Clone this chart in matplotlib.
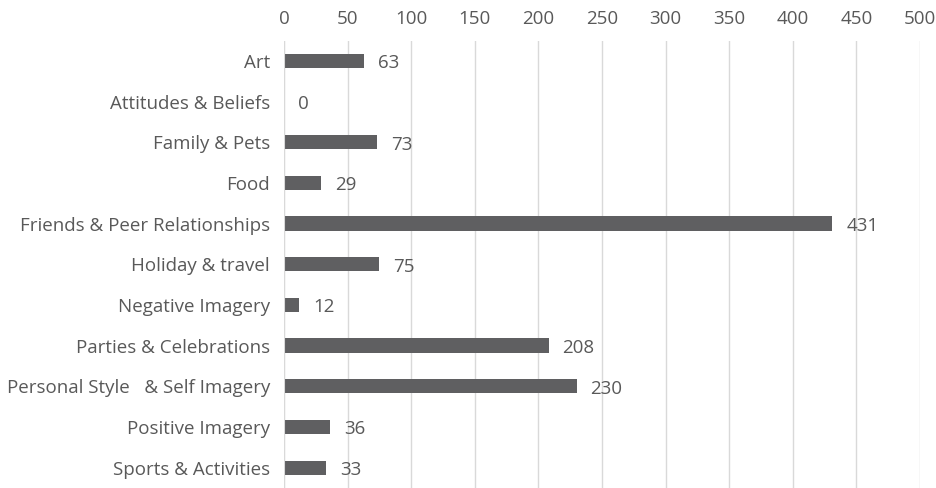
import matplotlib.pyplot as plt

# Категории и значения
categories = ["Art", "Attitudes & Beliefs", "Family & Pets", "Food",
              "Friends & Peer Relationships", "Holiday & travel",
              "Negative Imagery", "Parties & Celebrations",
              "Personal Style   & Self Imagery", "Positive Imagery",
              "Sports & Activities"]
values = [63, 0, 73, 29, 431, 75, 12, 208, 230, 36, 33]
ticks = [0, 50, 100, 150, 200, 250, 300, 350, 400, 450, 500]

plt.rcParams['font.family'] = ['Open Sans', 'DejaVu Sans']
text_color = '#595959'
fs = 13.5

fig = plt.figure(figsize=(9.36, 4.88), dpi=100)
ax = fig.add_axes([0.3034, 0.0, 0.6796, 0.917])

y = list(range(len(categories)))
ax.barh(y, values, height=0.35, color='#5f5f61', zorder=3)

for yi, v in zip(y, values):
    ax.text(v + 11, yi + 0.06, str(v), va='center', ha='left',
            fontsize=fs, color=text_color)

ax.set_xlim(0, 500)
ax.set_ylim(len(categories) - 0.5, -0.5)
ax.set_xticks(ticks)
ax.set_yticks(y)
ax.set_yticklabels(categories)
ax.xaxis.tick_top()
ax.tick_params(axis='both', length=0, labelsize=fs, colors=text_color)
ax.tick_params(axis='x', pad=9)
ax.tick_params(axis='y', pad=10)
ax.grid(axis='x', color='#d9d9d9', linewidth=1, zorder=0)
for s in ax.spines.values():
    s.set_visible(False)
ax.axvline(0, color='#d9d9d9', linewidth=1.5, zorder=4)

fig.savefig('out.png', dpi=100)
